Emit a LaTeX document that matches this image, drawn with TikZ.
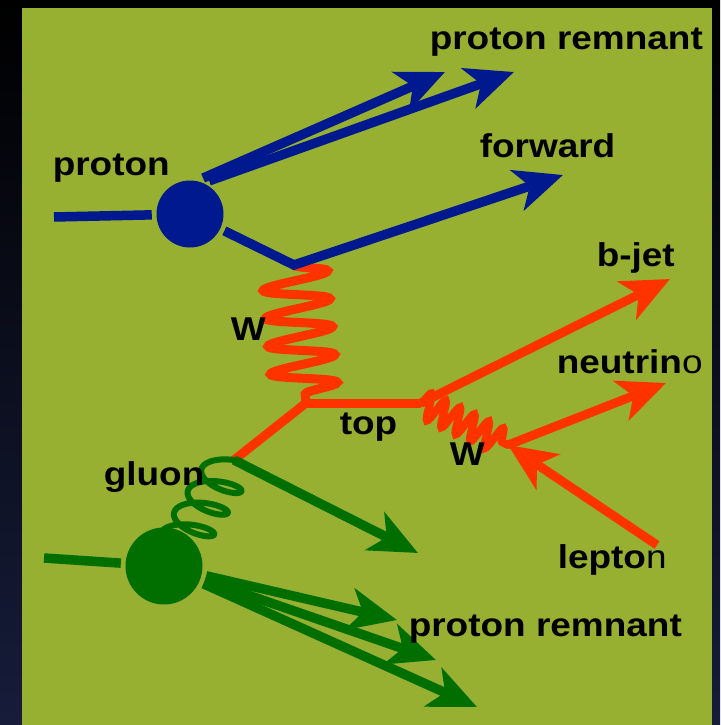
\documentclass[tikz,border=0pt]{standalone}
\usepackage{fontspec}
\setmainfont{Liberation Sans}[FakeStretch=1.12]
\definecolor{mOlive}{HTML}{97B031}
\definecolor{mNavy}{HTML}{00198F}
\definecolor{mRed}{HTML}{FF3300}
\definecolor{mGreen}{HTML}{006F00}
\definecolor{mBgBot}{HTML}{161C3A}
\usetikzlibrary{arrows.meta,decorations.pathmorphing}

\begin{document}
\begin{tikzpicture}[x=1pt, y=-1pt, line width=9.5pt, >={Stealth[length=48pt, width=42pt, inset=13pt]}, lbl/.style={inner sep=0pt, anchor=base west, font=\bfseries\fontsize{33}{36}\selectfont}, blob/.style={circle, inner sep=0pt, minimum size=#1}, declare function={gu(\t)=\t/360*25.6+10*sin(\t)-6.4*(1-cos(\t))+22.8; gv(\t)=-23*cos(\t);}]
\useasboundingbox (0,0) rectangle (720,725);
\shade[top color=black, bottom color=mBgBot] (0,0) rectangle (720,725);
\fill[mOlive] (22,8) rectangle (712,725);
\node[blob=67pt, fill=mNavy] (pA) at (190,214) {};
\node[blob=77pt, fill=mGreen] (pB) at (164,566) {};
\coordinate (pAin) at (54,217);
\coordinate (vA) at (294,265);
\coordinate (remA1) at (445,72);
\coordinate (remA2) at (514,72);
\coordinate (fwd) at (563,175);
\coordinate (vTop) at (306,403);
\coordinate (vW) at (421,403);
\coordinate (vGlu) at (234,460);
\coordinate (bjet) at (670,279);
\coordinate (vLep) at (508,445);
\coordinate (nu) at (666,383);
\coordinate (lepIn) at (657,545);
\coordinate (gjet) at (418,553);
\coordinate (pBin) at (44,558);
\coordinate (remB1) at (397,620);
\coordinate (remB2) at (436,660);
\coordinate (remB3) at (477,707);
\draw[mRed, line width=9pt, line cap=round, decorate, decoration={snake, amplitude=33pt, segment length=28pt}] (vA) -- (vTop);
\draw[mRed, line width=9pt] (vTop) -- (vW);
\draw[mRed, line width=9pt] (vTop) -- (vGlu);
\draw[mRed, line width=9pt, ->] (vW) -- (bjet);
\draw[mRed, line width=8pt, line cap=round, decorate, decoration={snake, amplitude=13pt, segment length=16pt}] (vW) -- (vLep);
\draw[mRed, line width=9pt, ->] (vLep) -- (nu);
\draw[mRed, line width=9pt, ->] (lepIn) -- (vLep);
\draw[mGreen, line width=6pt, line cap=round, line join=round, shift={(vGlu)}] plot[domain=-90:1130, samples=260, smooth] ({-0.533*gu(\x)+0.845*gv(\x)}, {0.845*gu(\x)+0.533*gv(\x)});
\draw[mGreen, ->] (vGlu) -- (gjet);
\draw[mGreen] (pBin) -- (pB);
\draw[mGreen, ->] (pB) -- (remB1);
\draw[mGreen, ->] (pB) -- (remB2);
\draw[mGreen, ->] (pB) -- (remB3);
\draw[mNavy] (pAin) -- (pA);
\draw[mNavy, ->] (pA) -- (vA) -- (fwd);
\draw[mNavy, ->] (pA.70) -- (remA1);
\draw[mNavy, ->] (pA.60) -- (remA2);
\node[lbl] (tRemA) at (425,49) {proton remnant};
\node[lbl] (tFwd) at (475,157) {forward};
\node[lbl] (tProton) at (48,175) {proton};
\node[lbl] (tBjet) at (592,266) {b-jet};
\node[lbl] (tWa) at (226,340) {W};
\node[lbl] (tNu) at (552,373) {neutrin{\mdseries o}};
\node[lbl] (tTop) at (335,434) {top};
\node[lbl] (tWb) at (445,465) {W};
\node[lbl] (tGluon) at (99,485) {gluon};
\node[lbl] (tLep) at (553,568) {lepto{\mdseries n}};
\node[lbl] (tRemB) at (404,636) {proton remnant};
\end{tikzpicture}
\end{document}
